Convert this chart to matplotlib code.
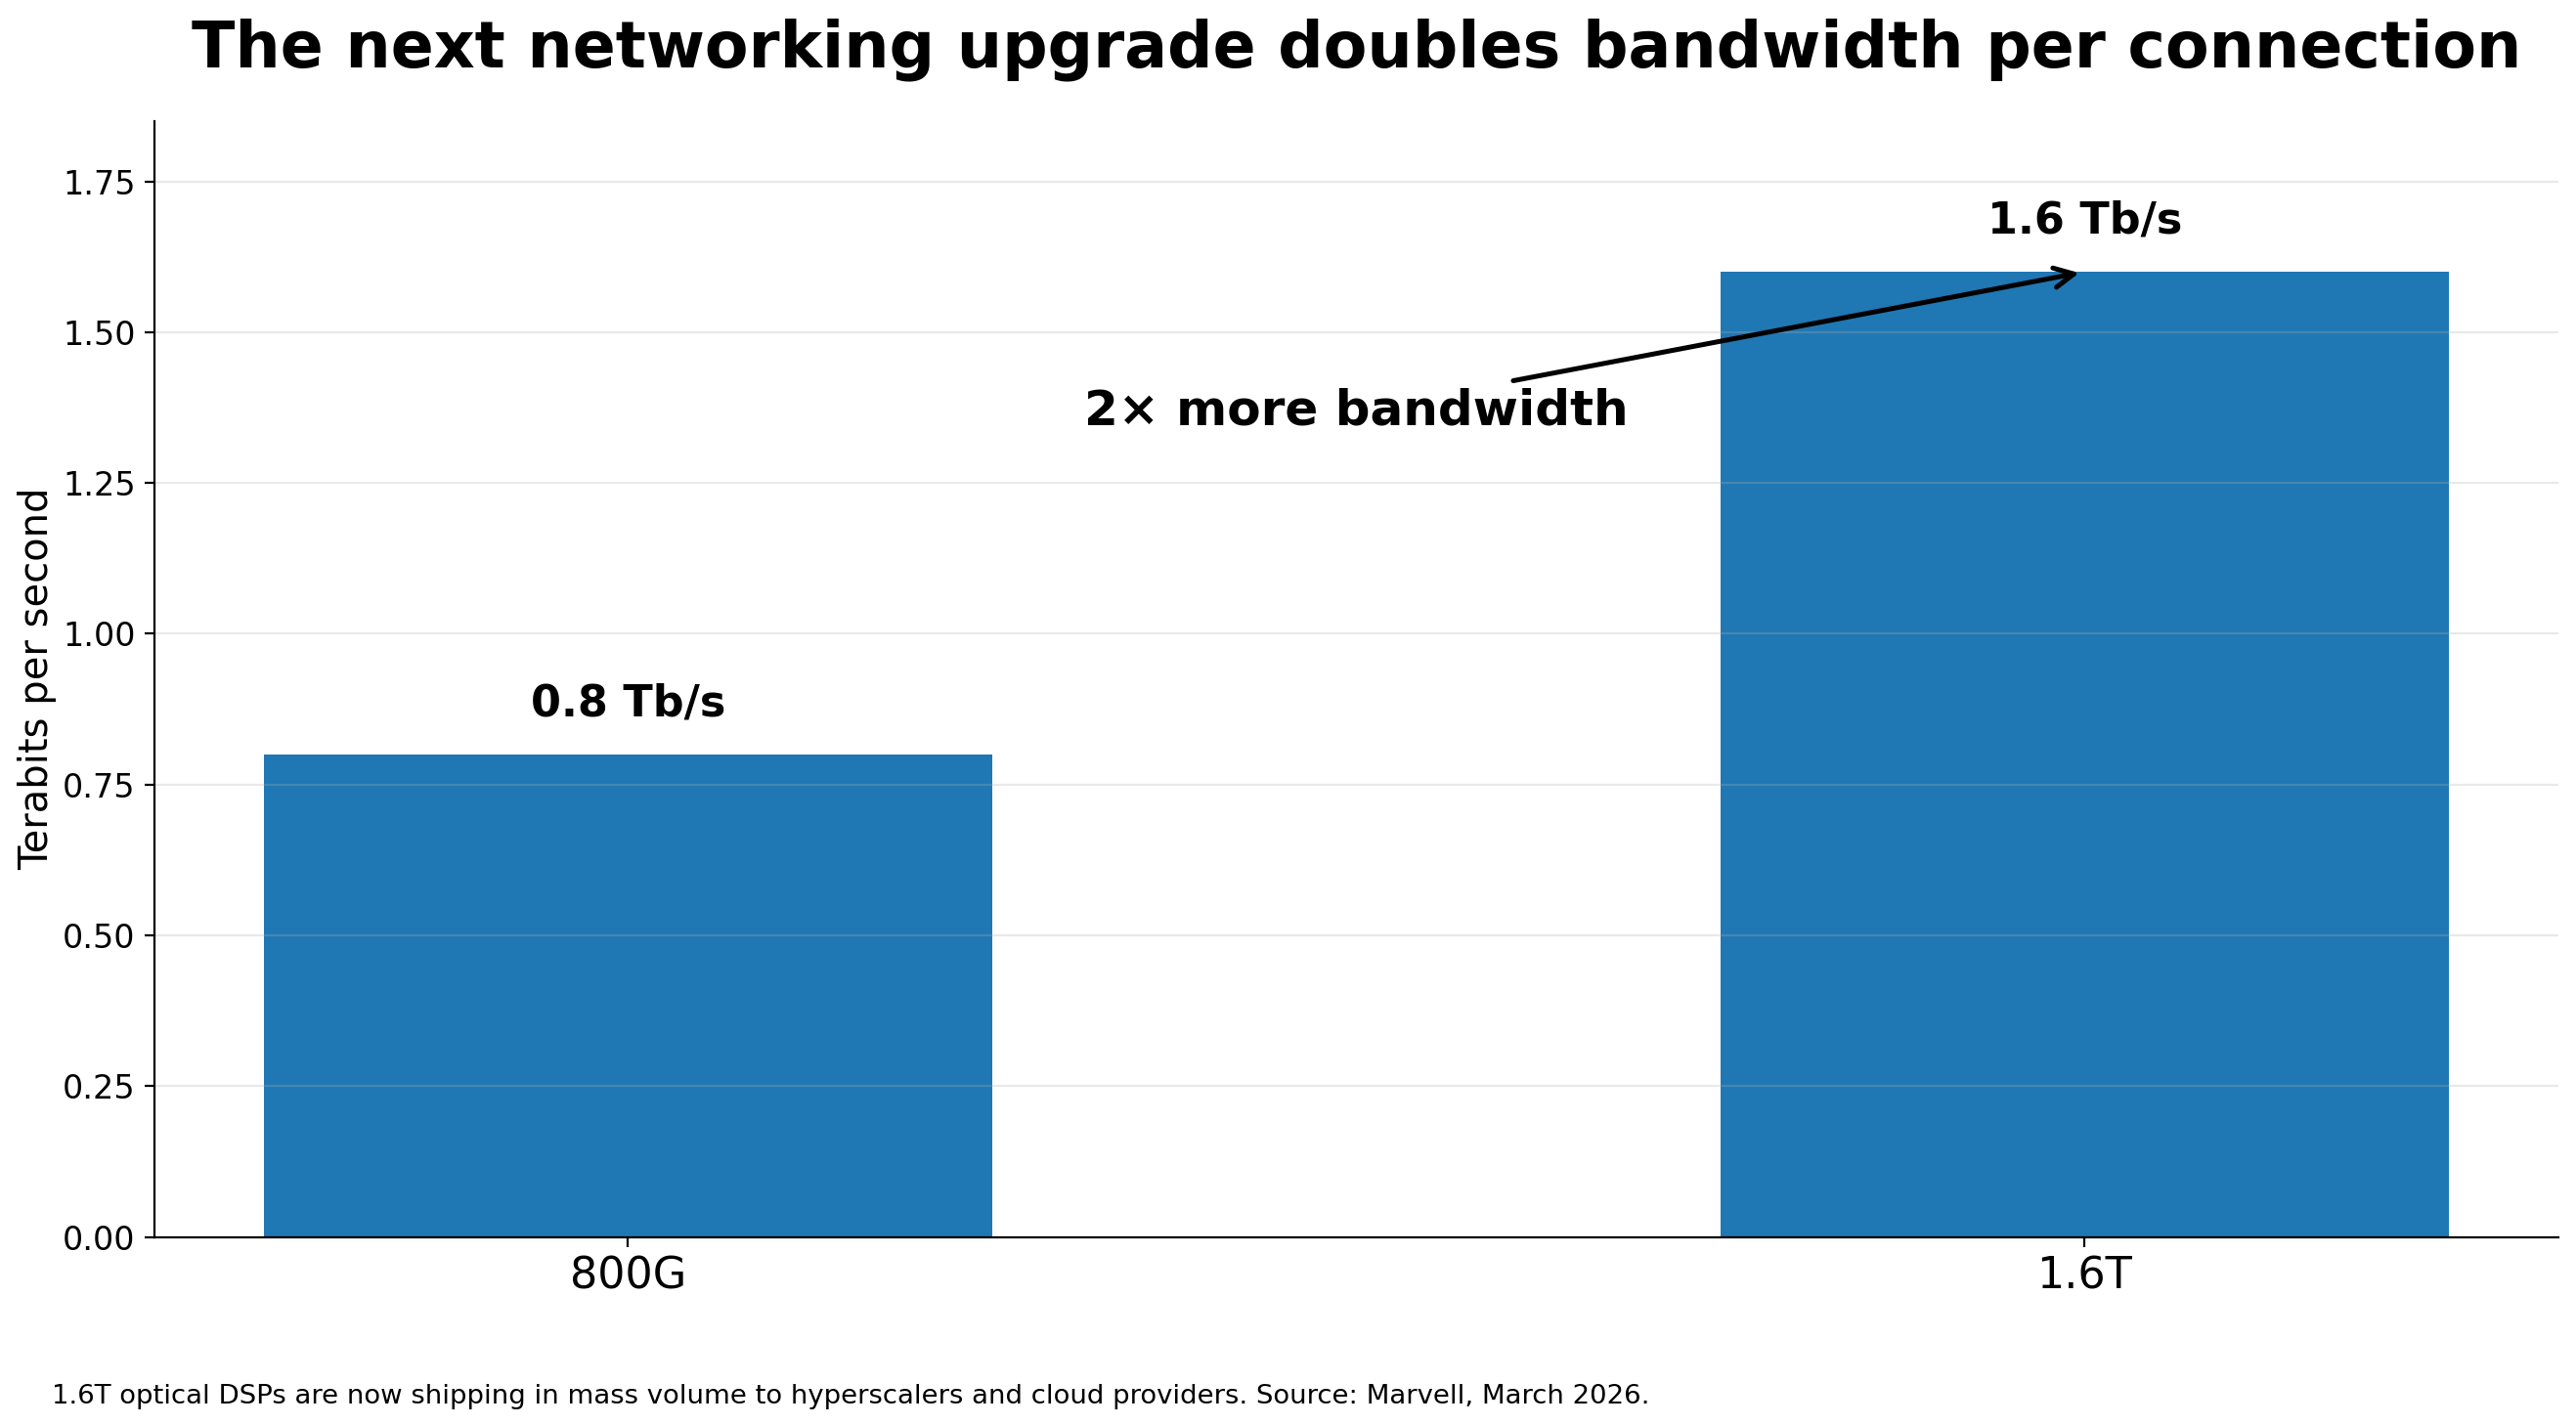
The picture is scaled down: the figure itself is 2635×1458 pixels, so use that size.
import matplotlib.pyplot as plt

categories = ['800G', '1.6T']
bandwidth_tbps = [0.8, 1.6]
value_labels = ['0.8 Tb/s', '1.6 Tb/s']
footnote = ('1.6T optical DSPs are now shipping in mass volume to hyperscalers '
            'and cloud providers. Source: Marvell, March 2026.')

fig, ax = plt.subplots(figsize=(13.175, 7.29), dpi=200)
fig.subplots_adjust(left=0.06, right=0.993, top=0.915, bottom=0.132)

x = range(len(categories))
ax.bar(x, bandwidth_tbps, width=0.5, color='#1f77b4')
ax.set_xticks(list(x))
ax.set_xticklabels(categories, fontsize=16)
ax.tick_params(axis='y', labelsize=12)
ax.set_ylim(0, 1.85)
ax.set_ylabel('Terabits per second', fontsize=14.4, labelpad=2)
ax.set_title('The next networking upgrade doubles bandwidth per connection',
             fontsize=23.4, fontweight='bold', pad=20)
ax.grid(axis='y', alpha=0.27)
ax.spines['top'].set_visible(False)
ax.spines['right'].set_visible(False)

for i, (v, lab) in enumerate(zip(bandwidth_tbps, value_labels)):
    ax.text(i, v + 0.05, lab, ha='center', va='bottom', fontsize=16, fontweight='bold')

ax.annotate('2× more bandwidth', xy=(1, bandwidth_tbps[1]), xytext=(0.5, 1.37),
            ha='center', va='center', fontsize=18, fontweight='bold',
            arrowprops=dict(arrowstyle='->', lw=1.8, color='black'))

fig.text(0.02, 0.011, footnote, fontsize=9.9, ha='left', va='bottom')

plt.savefig('out.png', dpi=200)
